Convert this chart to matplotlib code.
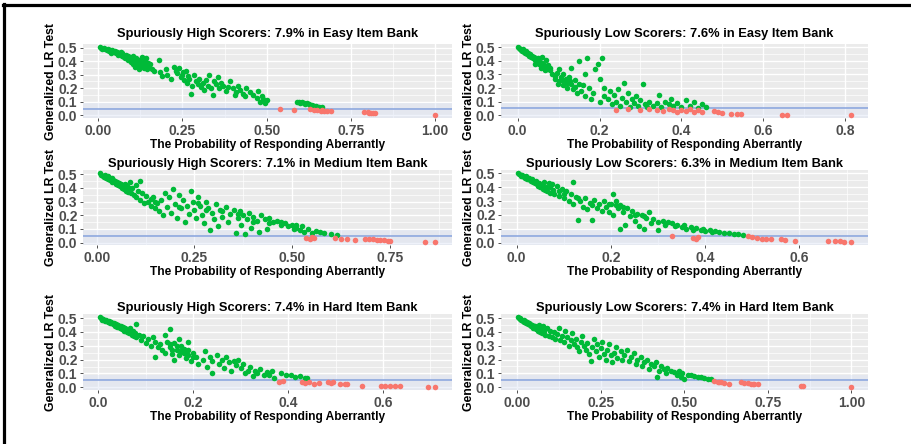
import matplotlib
matplotlib.use("Agg")
import matplotlib.pyplot as plt
import numpy as np
from matplotlib.ticker import FixedLocator, FormatStrFormatter, MultipleLocator
from matplotlib.lines import Line2D

plt.rcParams["font.family"] = ["Liberation Sans", "DejaVu Sans"]
plt.rcParams["font.weight"] = "bold"

# (probability of responding aberrantly, generalized LR test p-value)
easy_high = [
    (0.005, 0.502), (0.01, 0.498), (0.012, 0.49), (0.018, 0.495), (0.02, 0.487), (0.025, 0.482),
    (0.028, 0.49), (0.032, 0.478), (0.035, 0.485), (0.04, 0.472), (0.042, 0.48), (0.046, 0.468),
    (0.05, 0.475), (0.053, 0.462), (0.056, 0.47), (0.06, 0.455), (0.063, 0.462), (0.066, 0.45),
    (0.07, 0.458), (0.072, 0.44), (0.075, 0.448), (0.078, 0.432), (0.082, 0.445), (0.085, 0.42),
    (0.088, 0.438), (0.09, 0.41), (0.038, 0.462), (0.058, 0.445), (0.068, 0.47), (0.08, 0.425),
    (0.095, 0.43), (0.098, 0.395), (0.1, 0.415), (0.103, 0.38), (0.105, 0.44), (0.108, 0.4),
    (0.11, 0.36), (0.112, 0.42), (0.115, 0.39), (0.118, 0.37), (0.12, 0.34), (0.122, 0.41),
    (0.125, 0.385), (0.128, 0.36), (0.13, 0.43), (0.133, 0.395), (0.136, 0.35), (0.14, 0.375),
    (0.142, 0.42), (0.145, 0.34), (0.148, 0.39), (0.152, 0.36), (0.155, 0.38), (0.16, 0.345),
    (0.165, 0.33), (0.113, 0.405), (0.127, 0.375), (0.138, 0.4),
    (0.18, 0.41), (0.185, 0.32), (0.19, 0.29), (0.2, 0.34), (0.205, 0.3), (0.215, 0.27),
    (0.225, 0.36), (0.23, 0.33), (0.235, 0.31), (0.24, 0.35), (0.245, 0.28), (0.25, 0.3),
    (0.255, 0.26), (0.26, 0.33), (0.265, 0.24), (0.27, 0.27), (0.275, 0.16), (0.28, 0.22),
    (0.285, 0.3), (0.29, 0.25), (0.252, 0.32), (0.268, 0.29), (0.295, 0.23),
    (0.3, 0.27), (0.305, 0.21), (0.31, 0.24), (0.315, 0.19), (0.32, 0.26), (0.325, 0.22),
    (0.33, 0.3), (0.335, 0.2), (0.34, 0.15), (0.345, 0.25), (0.35, 0.23), (0.355, 0.28),
    (0.36, 0.2), (0.365, 0.24), (0.37, 0.22), (0.38, 0.18), (0.385, 0.21), (0.39, 0.25),
    (0.4, 0.2), (0.405, 0.15), (0.41, 0.17), (0.415, 0.22), (0.42, 0.19), (0.43, 0.16),
    (0.435, 0.14), (0.44, 0.2), (0.45, 0.17), (0.46, 0.15), (0.47, 0.13), (0.475, 0.18),
    (0.48, 0.1), (0.485, 0.14), (0.49, 0.12), (0.495, 0.09), (0.5, 0.11),
    (0.54, 0.045), (0.58, 0.04),
    (0.59, 0.1), (0.595, 0.095), (0.6, 0.092), (0.605, 0.098), (0.61, 0.088), (0.615, 0.085),
    (0.62, 0.09), (0.625, 0.082), (0.63, 0.078), (0.635, 0.075), (0.64, 0.07), (0.645, 0.072),
    (0.65, 0.065), (0.655, 0.06), (0.665, 0.058),
    (0.63, 0.045), (0.64, 0.04), (0.65, 0.038), (0.66, 0.035), (0.665, 0.042), (0.67, 0.03),
    (0.68, 0.032), (0.69, 0.035),
    (0.79, 0.025), (0.8, 0.022), (0.805, 0.02), (0.81, 0.018), (0.815, 0.02), (0.82, 0.016),
    (1.0, 0.005),
]

easy_low = [
    (0.0, 0.5), (0.003, 0.495), (0.006, 0.49), (0.008, 0.482), (0.01, 0.475), (0.012, 0.487),
    (0.015, 0.468), (0.017, 0.46), (0.02, 0.472), (0.022, 0.45), (0.025, 0.455), (0.027, 0.44),
    (0.03, 0.448), (0.032, 0.43), (0.035, 0.435), (0.037, 0.42), (0.04, 0.428), (0.042, 0.41),
    (0.045, 0.4), (0.047, 0.415), (0.05, 0.39), (0.052, 0.38), (0.055, 0.395), (0.057, 0.37),
    (0.06, 0.385), (0.062, 0.36), (0.065, 0.37), (0.068, 0.35), (0.07, 0.36), (0.072, 0.34),
    (0.075, 0.355), (0.078, 0.33), (0.08, 0.345), (0.05, 0.42), (0.06, 0.43), (0.07, 0.41),
    (0.043, 0.38), (0.058, 0.35), (0.066, 0.33), (0.074, 0.37),
    (0.085, 0.3), (0.09, 0.27), (0.095, 0.31), (0.1, 0.25), (0.1, 0.34), (0.105, 0.28),
    (0.11, 0.22), (0.11, 0.3), (0.115, 0.26), (0.12, 0.24), (0.12, 0.2), (0.125, 0.28),
    (0.13, 0.23), (0.13, 0.35), (0.135, 0.19), (0.14, 0.26), (0.14, 0.21), (0.145, 0.16),
    (0.15, 0.23), (0.15, 0.4), (0.155, 0.18), (0.16, 0.22), (0.165, 0.14), (0.165, 0.3),
    (0.17, 0.42), (0.175, 0.2), (0.18, 0.12), (0.185, 0.16), (0.19, 0.34), (0.195, 0.38),
    (0.2, 0.1), (0.2, 0.27), (0.205, 0.42), (0.21, 0.14), (0.21, 0.2),
    (0.092, 0.29), (0.108, 0.26), (0.118, 0.27), (0.128, 0.25), (0.098, 0.23),
    (0.22, 0.12), (0.225, 0.18), (0.23, 0.08), (0.235, 0.15), (0.24, 0.1), (0.245, 0.19),
    (0.25, 0.07), (0.255, 0.13), (0.26, 0.24), (0.265, 0.1), (0.27, 0.16), (0.275, 0.06),
    (0.28, 0.12), (0.285, 0.09), (0.29, 0.14), (0.295, 0.07), (0.3, 0.11), (0.305, 0.23),
    (0.31, 0.08), (0.315, 0.06), (0.32, 0.1), (0.33, 0.07), (0.34, 0.09), (0.345, 0.15),
    (0.35, 0.06), (0.36, 0.1), (0.37, 0.08), (0.375, 0.12), (0.38, 0.065), (0.39, 0.09),
    (0.4, 0.06), (0.41, 0.11), (0.42, 0.07), (0.43, 0.1), (0.44, 0.055), (0.45, 0.08),
    (0.46, 0.06),
    (0.24, 0.04), (0.27, 0.045), (0.3, 0.035), (0.32, 0.045), (0.34, 0.04), (0.355, 0.03),
    (0.37, 0.045), (0.38, 0.035), (0.39, 0.02), (0.4, 0.04), (0.41, 0.03), (0.42, 0.045),
    (0.43, 0.025), (0.44, 0.035), (0.45, 0.02), (0.48, 0.03), (0.49, 0.02), (0.5, 0.015),
    (0.52, 0.008), (0.535, 0.012), (0.545, 0.008), (0.645, 0.005), (0.658, 0.005), (0.815, 0.004),
]

medium_high = [
    (0.008, 0.505), (0.012, 0.495), (0.015, 0.488), (0.02, 0.48), (0.022, 0.492), (0.025, 0.472),
    (0.028, 0.485), (0.03, 0.465), (0.033, 0.475), (0.035, 0.455), (0.038, 0.468), (0.04, 0.445),
    (0.043, 0.46), (0.045, 0.44), (0.048, 0.452), (0.05, 0.43), (0.053, 0.445), (0.055, 0.42),
    (0.058, 0.435), (0.06, 0.41), (0.063, 0.425), (0.065, 0.4), (0.068, 0.415), (0.07, 0.39),
    (0.073, 0.43), (0.075, 0.38), (0.078, 0.41), (0.08, 0.37), (0.083, 0.395), (0.085, 0.44),
    (0.088, 0.36), (0.09, 0.4), (0.095, 0.35), (0.1, 0.42), (0.1, 0.33), (0.105, 0.38),
    (0.11, 0.31), (0.112, 0.45), (0.115, 0.36), (0.12, 0.29), (0.125, 0.34), (0.13, 0.3),
    (0.14, 0.27), (0.145, 0.33), (0.15, 0.25), (0.155, 0.29), (0.16, 0.23), (0.165, 0.31),
    (0.17, 0.2), (0.175, 0.36), (0.18, 0.26), (0.185, 0.33), (0.19, 0.22), (0.195, 0.39),
    (0.2, 0.28), (0.205, 0.18), (0.21, 0.35), (0.215, 0.25), (0.22, 0.31), (0.225, 0.15),
    (0.23, 0.27), (0.235, 0.21), (0.24, 0.38), (0.245, 0.3), (0.25, 0.24), (0.255, 0.18),
    (0.26, 0.33), (0.265, 0.27), (0.27, 0.2), (0.275, 0.14), (0.28, 0.3), (0.285, 0.25),
    (0.29, 0.09), (0.295, 0.22), (0.3, 0.17), (0.305, 0.28), (0.31, 0.12), (0.315, 0.24),
    (0.32, 0.19), (0.33, 0.26), (0.335, 0.15), (0.34, 0.21), (0.35, 0.24),
    (0.355, 0.07), (0.36, 0.18), (0.365, 0.23), (0.37, 0.13), (0.375, 0.2), (0.38, 0.06),
    (0.385, 0.17), (0.39, 0.22), (0.395, 0.11), (0.4, 0.19), (0.41, 0.16), (0.415, 0.08),
    (0.42, 0.2), (0.43, 0.17), (0.435, 0.1), (0.44, 0.18), (0.45, 0.15), (0.46, 0.16),
    (0.47, 0.13), (0.48, 0.14), (0.49, 0.12), (0.5, 0.13), (0.505, 0.1), (0.51, 0.11),
    (0.52, 0.09), (0.525, 0.12), (0.53, 0.08), (0.54, 0.1), (0.55, 0.07), (0.56, 0.085),
    (0.57, 0.075), (0.58, 0.07), (0.6, 0.06), (0.615, 0.055),
    (0.14, 0.32), (0.15, 0.3), (0.21, 0.26), (0.26, 0.29), (0.28, 0.24), (0.32, 0.23),
    (0.36, 0.21), (0.4, 0.15), (0.44, 0.14), (0.47, 0.15), (0.51, 0.13),
    (0.535, 0.035), (0.545, 0.03), (0.55, 0.04), (0.555, 0.032), (0.61, 0.035), (0.625, 0.03),
    (0.64, 0.025), (0.66, 0.02), (0.685, 0.03), (0.695, 0.028), (0.705, 0.025), (0.715, 0.022),
    (0.725, 0.02), (0.735, 0.018), (0.745, 0.015), (0.75, 0.012), (0.84, 0.008), (0.865, 0.008),
]

medium_low = [
    (0.002, 0.5), (0.005, 0.495), (0.008, 0.488), (0.01, 0.482), (0.012, 0.492), (0.015, 0.475),
    (0.018, 0.468), (0.02, 0.48), (0.022, 0.46), (0.025, 0.468), (0.028, 0.452), (0.03, 0.445),
    (0.032, 0.46), (0.035, 0.438), (0.038, 0.43), (0.04, 0.445), (0.042, 0.42), (0.045, 0.41),
    (0.048, 0.43), (0.05, 0.4), (0.053, 0.415), (0.055, 0.39), (0.058, 0.44), (0.06, 0.38),
    (0.063, 0.4), (0.065, 0.37), (0.068, 0.43), (0.07, 0.36), (0.075, 0.42), (0.078, 0.38),
    (0.08, 0.35), (0.085, 0.41), (0.09, 0.34), (0.095, 0.39), (0.1, 0.32), (0.105, 0.37),
    (0.11, 0.3), (0.115, 0.35), (0.12, 0.44), (0.12, 0.28), (0.125, 0.33),
    (0.13, 0.165), (0.135, 0.3), (0.14, 0.26), (0.145, 0.32), (0.15, 0.24), (0.155, 0.29),
    (0.16, 0.165), (0.16, 0.27), (0.165, 0.31), (0.17, 0.25), (0.175, 0.28), (0.18, 0.23),
    (0.185, 0.3), (0.19, 0.26), (0.195, 0.22), (0.2, 0.28), (0.205, 0.355), (0.205, 0.2),
    (0.21, 0.3), (0.215, 0.25), (0.22, 0.1), (0.22, 0.27), (0.225, 0.22), (0.23, 0.13),
    (0.235, 0.25), (0.24, 0.19), (0.245, 0.23), (0.25, 0.16), (0.255, 0.21), (0.26, 0.12),
    (0.265, 0.2), (0.27, 0.1), (0.275, 0.18), (0.28, 0.22), (0.285, 0.14), (0.29, 0.17),
    (0.3, 0.09), (0.3, 0.15),
    (0.07, 0.4), (0.09, 0.37), (0.1, 0.35), (0.13, 0.32), (0.195, 0.28), (0.21, 0.27),
    (0.225, 0.26), (0.25, 0.2), (0.27, 0.19),
    (0.31, 0.16), (0.315, 0.13), (0.32, 0.15), (0.33, 0.14), (0.335, 0.12), (0.34, 0.13),
    (0.35, 0.11), (0.355, 0.125), (0.36, 0.1), (0.37, 0.115), (0.375, 0.095), (0.38, 0.105),
    (0.39, 0.09), (0.395, 0.1), (0.4, 0.085), (0.41, 0.09), (0.415, 0.08), (0.42, 0.085),
    (0.43, 0.075), (0.44, 0.07), (0.45, 0.068), (0.46, 0.06), (0.47, 0.065), (0.48, 0.055),
    (0.33, 0.045), (0.375, 0.035), (0.38, 0.03), (0.385, 0.04), (0.49, 0.045), (0.5, 0.04),
    (0.51, 0.035), (0.52, 0.03), (0.53, 0.028), (0.54, 0.025), (0.56, 0.025), (0.57, 0.02),
    (0.59, 0.015), (0.66, 0.01), (0.675, 0.01), (0.685, 0.01), (0.695, 0.008), (0.71, 0.008),
]

hard_high = [
    (0.003, 0.505), (0.006, 0.498), (0.008, 0.49), (0.01, 0.495), (0.012, 0.485), (0.015, 0.478),
    (0.017, 0.488), (0.02, 0.47), (0.022, 0.48), (0.025, 0.462), (0.027, 0.472), (0.03, 0.455),
    (0.032, 0.465), (0.035, 0.445), (0.037, 0.458), (0.04, 0.438), (0.042, 0.45), (0.045, 0.43),
    (0.047, 0.442), (0.05, 0.42), (0.052, 0.435), (0.055, 0.41), (0.057, 0.428), (0.06, 0.4),
    (0.062, 0.415), (0.065, 0.39), (0.067, 0.43), (0.07, 0.38), (0.072, 0.405), (0.075, 0.37),
    (0.077, 0.39), (0.08, 0.46), (0.08, 0.36), (0.085, 0.38),
    (0.09, 0.34), (0.095, 0.37), (0.1, 0.32), (0.105, 0.35), (0.11, 0.3), (0.115, 0.36),
    (0.12, 0.22), (0.12, 0.33), (0.125, 0.29), (0.13, 0.31), (0.135, 0.27), (0.14, 0.38),
    (0.14, 0.25), (0.145, 0.33), (0.15, 0.42), (0.15, 0.29), (0.155, 0.24), (0.16, 0.32),
    (0.16, 0.2), (0.165, 0.27), (0.17, 0.35), (0.17, 0.23), (0.175, 0.3), (0.18, 0.25),
    (0.185, 0.21), (0.19, 0.33), (0.19, 0.27), (0.195, 0.19), (0.2, 0.25), (0.205, 0.22),
    (0.21, 0.17),
    (0.15, 0.31), (0.155, 0.27), (0.165, 0.3), (0.175, 0.26), (0.18, 0.28), (0.185, 0.24),
    (0.19, 0.23), (0.2, 0.22),
    (0.22, 0.2), (0.225, 0.26), (0.23, 0.15), (0.235, 0.22), (0.24, 0.1), (0.24, 0.19),
    (0.25, 0.23), (0.255, 0.17), (0.26, 0.2), (0.265, 0.14), (0.27, 0.22), (0.275, 0.18),
    (0.28, 0.12), (0.285, 0.19), (0.29, 0.16), (0.295, 0.2), (0.3, 0.14), (0.305, 0.17),
    (0.31, 0.1), (0.315, 0.12), (0.32, 0.15), (0.325, 0.08), (0.33, 0.12), (0.335, 0.1),
    (0.34, 0.13), (0.35, 0.09), (0.355, 0.11), (0.36, 0.085), (0.365, 0.12), (0.37, 0.07),
    (0.385, 0.1), (0.395, 0.085), (0.405, 0.09), (0.415, 0.075), (0.425, 0.08), (0.435, 0.065),
    (0.44, 0.07),
    (0.38, 0.04), (0.39, 0.045), (0.43, 0.04), (0.435, 0.03), (0.445, 0.035), (0.455, 0.025),
    (0.465, 0.03), (0.485, 0.04), (0.49, 0.03), (0.495, 0.035), (0.51, 0.025), (0.52, 0.02),
    (0.525, 0.02), (0.555, 0.012), (0.595, 0.01), (0.605, 0.01), (0.615, 0.008), (0.625, 0.008),
    (0.635, 0.008), (0.695, 0.005), (0.71, 0.005),
]

hard_low = [
    (0.002, 0.505), (0.005, 0.5), (0.008, 0.492), (0.01, 0.498), (0.012, 0.485), (0.015, 0.49),
    (0.018, 0.478), (0.02, 0.485), (0.022, 0.47), (0.025, 0.478), (0.028, 0.462), (0.03, 0.47),
    (0.033, 0.455), (0.035, 0.465), (0.038, 0.448), (0.04, 0.458), (0.043, 0.44), (0.045, 0.452),
    (0.048, 0.432), (0.05, 0.445), (0.053, 0.425), (0.055, 0.44), (0.058, 0.418), (0.06, 0.43),
    (0.063, 0.41), (0.065, 0.45), (0.068, 0.4), (0.07, 0.42), (0.075, 0.395), (0.078, 0.44),
    (0.08, 0.41), (0.085, 0.38), (0.09, 0.43), (0.095, 0.37), (0.1, 0.41), (0.105, 0.36),
    (0.11, 0.4), (0.115, 0.35), (0.12, 0.385), (0.125, 0.43), (0.13, 0.34), (0.135, 0.37),
    (0.14, 0.33), (0.145, 0.41), (0.15, 0.36), (0.155, 0.3), (0.16, 0.34), (0.165, 0.39),
    (0.17, 0.31), (0.175, 0.35), (0.18, 0.29), (0.185, 0.26), (0.19, 0.33), (0.195, 0.37),
    (0.2, 0.3), (0.205, 0.27), (0.21, 0.32), (0.215, 0.24), (0.22, 0.19), (0.225, 0.29),
    (0.23, 0.35), (0.235, 0.26), (0.24, 0.31), (0.245, 0.22), (0.25, 0.28), (0.255, 0.33),
    (0.26, 0.24), (0.265, 0.2), (0.27, 0.27), (0.275, 0.31), (0.28, 0.23), (0.285, 0.18),
    (0.29, 0.25), (0.295, 0.29), (0.3, 0.21), (0.31, 0.26), (0.315, 0.2), (0.32, 0.23),
    (0.33, 0.27), (0.335, 0.19), (0.34, 0.22), (0.35, 0.25), (0.355, 0.17), (0.36, 0.2),
    (0.37, 0.22), (0.375, 0.15), (0.38, 0.18), (0.39, 0.2), (0.395, 0.13), (0.4, 0.17),
    (0.41, 0.15), (0.415, 0.18), (0.42, 0.07), (0.425, 0.12), (0.43, 0.15), (0.44, 0.13),
    (0.445, 0.1), (0.45, 0.14), (0.46, 0.12), (0.47, 0.11), (0.48, 0.09), (0.485, 0.12),
    (0.49, 0.07), (0.495, 0.1), (0.5, 0.06), (0.51, 0.09), (0.52, 0.085), (0.53, 0.08),
    (0.54, 0.075), (0.55, 0.07), (0.56, 0.065), (0.57, 0.06), (0.58, 0.058),
    (0.59, 0.045), (0.6, 0.04), (0.605, 0.035), (0.61, 0.038), (0.62, 0.03), (0.635, 0.025),
    (0.67, 0.035), (0.68, 0.03), (0.69, 0.028), (0.7, 0.025), (0.705, 0.022), (0.71, 0.02),
    (0.72, 0.02), (0.85, 0.01), (0.855, 0.008), (1.0, 0.004),
]

titles = [
    "Spuriously High Scorers: 7.9% in Easy Item Bank",
    "Spuriously Low Scorers: 7.6% in Easy Item Bank",
    "Spuriously High Scorers: 7.1% in Medium Item Bank",
    "Spuriously Low Scorers: 6.3% in Medium Item Bank",
    "Spuriously High Scorers: 7.4% in Hard Item Bank",
    "Spuriously Low Scorers: 7.4% in Hard Item Bank",
]
x_ticks = [
    [0.0, 0.25, 0.5, 0.75, 1.0],
    [0.0, 0.2, 0.4, 0.6, 0.8],
    [0.0, 0.25, 0.5, 0.75],
    [0.0, 0.2, 0.4, 0.6],
    [0.0, 0.2, 0.4, 0.6],
    [0.0, 0.25, 0.5, 0.75, 1.0],
]
y_ticks = [0.0, 0.1, 0.2, 0.3, 0.4, 0.5]
CUTOFF = 0.05

datasets = [easy_high, easy_low, medium_high, medium_low, hard_high, hard_low]

W, H = 912, 444
fig = plt.figure(figsize=(W / 100, H / 100), dpi=100)
fig.patch.set_facecolor("white")


def px_rect(left, top, right, bottom):
    return [left / W, 1 - bottom / H, (right - left) / W, (bottom - top) / H]


col_edges = [(83, 452), (501, 868)]
row_edges = [(44, 118), (170, 245), (314, 390)]
title_pads = [5.0, 2.5, 2.0]

GREEN = "#00BA38"
RED = "#F8766D"

for i, (pts, title, xt) in enumerate(zip(datasets, titles, x_ticks)):
    r, c = divmod(i, 2)
    (l, rr), (t, b) = col_edges[c], row_edges[r]
    ax = fig.add_axes(px_rect(l, t, rr, b))
    ax.set_facecolor("#EBEBEB")
    arr = np.array(pts)
    x, y = arr[:, 0], arr[:, 1]
    flagged = y < CUTOFF

    # ggplot-style 5% expansion of the data range
    xr = x.max() - x.min()
    ax.set_xlim(x.min() - 0.05 * xr, x.max() + 0.05 * xr)
    yr = y.max() - y.min()
    ax.set_ylim(y.min() - 0.05 * yr, y.max() + 0.05 * yr)

    ax.xaxis.set_major_locator(FixedLocator(xt))
    step = xt[1] - xt[0]
    ax.xaxis.set_minor_locator(MultipleLocator(step / 2))
    ax.yaxis.set_major_locator(FixedLocator(y_ticks))
    ax.yaxis.set_minor_locator(MultipleLocator(0.05))
    fmt = "%.2f" if abs(step - 0.25) < 1e-9 else "%.1f"
    ax.xaxis.set_major_formatter(FormatStrFormatter(fmt))
    ax.yaxis.set_major_formatter(FormatStrFormatter("%.1f"))

    ax.grid(which="major", color="white", lw=1.0)
    ax.grid(which="minor", color="white", lw=0.5)
    ax.set_axisbelow(True)
    for s in ax.spines.values():
        s.set_visible(False)
    ax.tick_params(which="major", length=2.5, width=0.6, color="#333333",
                   labelsize=10, labelcolor="#4D4D4D", pad=1.5)
    ax.tick_params(which="minor", length=0)

    ax.axhspan(ax.get_ylim()[0], 0.09, color="#DCE4F6", alpha=0.45, lw=0, zorder=0.6)
    ax.axhline(CUTOFF, color="#86A2DC", lw=1.1, zorder=2)
    ax.scatter(x[~flagged], y[~flagged], s=16, color=GREEN, lw=0, zorder=3)
    ax.scatter(x[flagged], y[flagged], s=16, color=RED, lw=0, zorder=3)

    ax.set_title(title, fontsize=9.3, fontweight="bold", pad=title_pads[r])
    ax.set_xlabel("The Probability of Responding Aberrantly", fontsize=8.6,
                  fontweight="bold", labelpad=1)
    ax.set_ylabel("Generalized LR Test", fontsize=8.8, fontweight="bold", labelpad=1)

# outer frame (left and top edges)
fig.add_artist(Line2D([4.5 / W, 4.5 / W], [0, 1 - 4 / H], transform=fig.transFigure,
                      color="black", lw=2.3))
fig.add_artist(Line2D([3.5 / W, 1], [1 - 5.5 / H, 1 - 5.5 / H], transform=fig.transFigure,
                      color="black", lw=2.3))

fig.savefig("out.png", dpi=100, facecolor="white")
